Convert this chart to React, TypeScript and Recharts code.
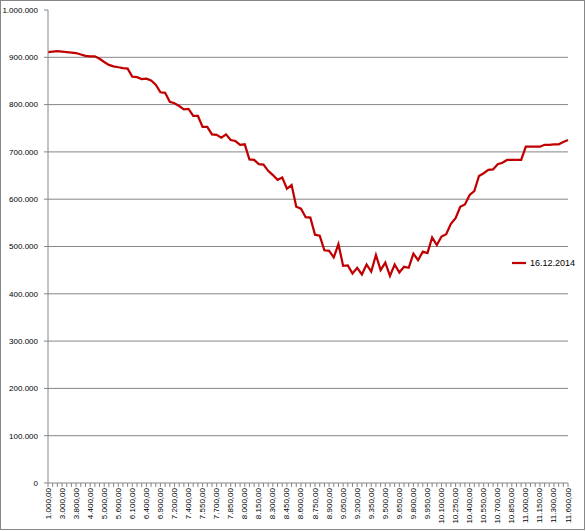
import { CartesianGrid, Legend, Line, LineChart, XAxis, YAxis } from "recharts";

const SERIES_NAME = "16.12.2014";

// x categories (only every 3rd one is labelled on the axis)
const categories = [
  1000, 2000, 2500, 3000, 3200, 3500, 3800, 4000, 4200, 4400, 4600, 4800,
  5000, 5200, 5400, 5600, 5800, 6000, 6100, 6200, 6300, 6400, 6600, 6800,
  6900, 7000, 7100, 7200, 7300, 7350, 7400, 7450, 7500, 7550, 7600, 7650,
  7700, 7750, 7800, 7850, 7900, 7950, 8000, 8050, 8100, 8150, 8200, 8250,
  8300, 8350, 8400, 8450, 8500, 8550, 8600, 8650, 8700, 8750, 8800, 8850,
  8900, 8950, 9000, 9050, 9100, 9150, 9200, 9250, 9300, 9350, 9400, 9450,
  9500, 9550, 9600, 9650, 9700, 9750, 9800, 9850, 9900, 9950, 10000, 10050,
  10100, 10150, 10200, 10250, 10300, 10350, 10400, 10450, 10500, 10550,
  10600, 10650, 10700, 10750, 10800, 10850, 10900, 10950, 11000, 11050,
  11100, 11150, 11200, 11250, 11300, 11400, 11500, 11600,
];

const values = [
  911000, 912000, 913000, 912000, 911000, 910000, 909000, 906000, 903000,
  902000, 902000, 897000, 890000, 884000, 881000, 879000, 877000, 876000,
  859000, 858000, 854000, 855000, 851000, 842000, 826000, 825000, 806000,
  803000, 797000, 790000, 791000, 776000, 776000, 753000, 753000, 737000,
  736000, 730000, 737000, 725000, 723000, 715000, 716000, 684000, 683000,
  674000, 673000, 660000, 651000, 641000, 646000, 622000, 630000, 584000,
  580000, 562000, 561000, 525000, 523000, 492000, 491000, 477000, 505000,
  459000, 460000, 443000, 455000, 441000, 462000, 447000, 482000, 450000,
  466000, 438000, 462000, 445000, 457000, 455000, 485000, 471000, 489000,
  486000, 519000, 503000, 521000, 526000, 548000, 560000, 584000, 589000,
  609000, 617000, 649000, 655000, 662000, 663000, 674000, 677000, 683000,
  683000, 683000, 683000, 711000, 711000, 711000, 711000, 715000, 715000,
  716000, 716000, 721000, 725000,
];

const yTicks = [
  0, 100000, 200000, 300000, 400000, 500000, 600000, 700000, 800000, 900000,
  1000000,
];
const gridValues = [
  100000, 200000, 300000, 400000, 500000, 600000, 700000, 800000, 900000,
];

const data = categories.map((c, i) => ({ cat: c, value: values[i] }));

const FONT = "'Liberation Sans', Arial, sans-serif";
const GRAY = "#868686";
const RED = "#C00000";

const dots = (n: number) => String(n).replace(/\B(?=(\d{3})+(?!\d))/g, ".");
const fmtCat = (n: number) => dots(n) + ",00";

function CatTick(props: any) {
  const { x, y, payload } = props;
  const idx = payload?.index ?? props.index;
  if (idx % 3 !== 0) return null;
  return (
    <text
      x={x}
      y={y}
      transform={`rotate(-90 ${x} ${y})`}
      textAnchor="end"
      dominantBaseline="central"
      fontSize={8}
      fontFamily={FONT}
      fill="#000"
    >
      {fmtCat(payload.value)}
    </text>
  );
}

function LegendBox() {
  return (
    <div
      style={{
        display: "flex",
        alignItems: "center",
        fontFamily: FONT,
        fontSize: 9,
        color: "#000",
        whiteSpace: "nowrap",
      }}
    >
      <svg width={18} height={6} style={{ marginRight: 1 }}>
        <line x1={1} y1={3} x2={15} y2={3} stroke={RED} strokeWidth={2.25} />
      </svg>
      <span>{SERIES_NAME}</span>
    </div>
  );
}

export default function App() {
  return (
    <div style={{ position: "absolute", left: 0, top: 0, width: 586, height: 531 }}>
      <div
        style={{
          position: "absolute",
          left: 0,
          top: 0,
          width: 585,
          height: 530,
          boxSizing: "border-box",
          border: `1px solid ${GRAY}`,
        }}
      />
      <LineChart
        width={586}
        height={531}
        data={data}
        margin={{ top: 10, right: 18, left: 0, bottom: 0 }}
        style={{ fontFamily: FONT }}
      >
        <CartesianGrid
          vertical={false}
          horizontalValues={gridValues}
          stroke={GRAY}
          strokeWidth={1}
        />
        <XAxis
          dataKey="cat"
          height={48}
          interval={0}
          tickSize={4}
          tickMargin={1}
          tick={<CatTick />}
          tickLine={{ stroke: GRAY }}
          axisLine={{ stroke: GRAY }}
        />
        <YAxis
          type="number"
          domain={[0, 1000000]}
          ticks={yTicks}
          width={48}
          tickFormatter={dots}
          tickSize={4}
          tickMargin={6}
          tick={{ fontSize: 8, fill: "#000", fontFamily: FONT }}
          tickLine={{ stroke: GRAY }}
          axisLine={{ stroke: GRAY }}
        />
        <Legend
          layout="horizontal"
          verticalAlign="middle"
          align="center"
          wrapperStyle={{ left: 511, top: 258, width: "auto" }}
          content={() => <LegendBox />}
        />
        <Line
          type="linear"
          dataKey="value"
          name={SERIES_NAME}
          stroke={RED}
          strokeWidth={2.25}
          dot={false}
          activeDot={false}
          isAnimationActive={false}
        />
      </LineChart>
    </div>
  );
}
